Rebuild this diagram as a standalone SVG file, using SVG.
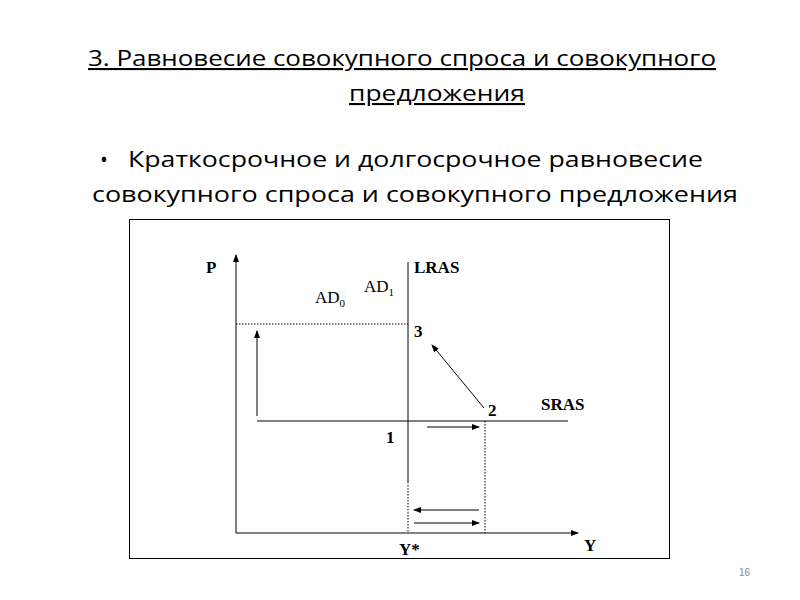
<svg xmlns="http://www.w3.org/2000/svg" width="800" height="600" viewBox="0 0 800 600">
<style>
.t{font-family:"Open Sans","Liberation Sans",Arial,sans-serif;fill:#000}
.s{font-family:"Liberation Serif","Times New Roman",serif;fill:#000}
.b{font-weight:bold}
.ln{stroke:#000;stroke-width:1;fill:none}
.dt{stroke:#000;stroke-width:1;stroke-dasharray:1.5,1.5;fill:none}
</style>
<defs><marker id="a" markerWidth="8" markerHeight="6" refX="7" refY="3" orient="auto" markerUnits="userSpaceOnUse"><path d="M0,0 L8,3 L0,6 z" fill="#000"/></marker></defs>
<rect width="800" height="600" fill="#fff"/>
<g id="title">
<text class="t" x="88" y="66" font-size="21" textLength="628" lengthAdjust="spacingAndGlyphs" text-decoration="underline">3. Равновесие совокупного спроса и совокупного</text>
<text class="t" x="349" y="101" font-size="21" textLength="176" lengthAdjust="spacingAndGlyphs" text-decoration="underline">предложения</text>
</g>
<g id="bullet">
<text class="t" x="100" y="167" font-size="21">•</text>
<text class="t" x="128" y="167" font-size="22" textLength="575" lengthAdjust="spacingAndGlyphs">Краткосрочное и долгосрочное равновесие</text>
<text class="t" x="92" y="202" font-size="22" textLength="646" lengthAdjust="spacingAndGlyphs">совокупного спроса и совокупного предложения</text>
</g>
<rect x="129.5" y="219.5" width="540" height="339" fill="none" stroke="#000"/>
<g id="connectors">
<line class="ln" x1="236" y1="533" x2="236" y2="255" stroke-width="2" marker-end="url(#a)"/>
<line class="ln" x1="236" y1="533" x2="578" y2="533" stroke-width="2" marker-end="url(#a)"/>
<line class="ln" x1="408" y1="262" x2="408" y2="482"/>
<line class="dt" x1="408" y1="482" x2="408" y2="533"/>
<line class="ln" x1="257" y1="421" x2="568" y2="421"/>
<line class="dt" x1="236" y1="324" x2="408" y2="324"/>
<line class="dt" x1="485" y1="421" x2="485" y2="533"/>
<line class="ln" x1="257" y1="416" x2="257" y2="331" marker-end="url(#a)"/>
<line class="ln" x1="484" y1="408" x2="432" y2="345" marker-end="url(#a)"/>
<line class="ln" x1="427" y1="427" x2="479" y2="427" marker-end="url(#a)"/>
<line class="ln" x1="479" y1="510" x2="414" y2="510" marker-end="url(#a)"/>
<line class="ln" x1="414" y1="523" x2="479" y2="523" marker-end="url(#a)"/>
</g>
<g id="labels" font-size="17">
<text class="s b" x="206" y="273">P</text>
<text class="s b" x="414" y="273">LRAS</text>
<text class="s" x="315" y="303">AD<tspan font-size="11" dy="4">0</tspan></text>
<text class="s" x="364" y="292">AD<tspan font-size="11" dy="4">1</tspan></text>
<text class="s b" x="414" y="337">3</text>
<text class="s b" x="488" y="416">2</text>
<text class="s b" x="541" y="410">SRAS</text>
<text class="s b" x="386" y="443">1</text>
<text class="s b" x="399" y="555">Y*</text>
<text class="s b" x="584" y="551">Y</text>
</g>
<text x="750" y="576" font-size="10" font-family="Liberation Sans, sans-serif" fill="#888" text-anchor="end">16</text>
</svg>
